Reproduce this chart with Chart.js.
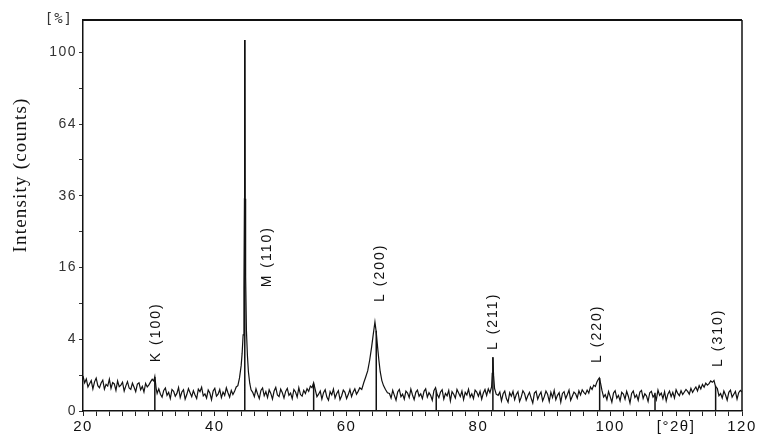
<!DOCTYPE html>
<html><head><meta charset="utf-8">
<script src="https://cdn.jsdelivr.net/npm/chart.js@4.4.1/dist/chart.umd.min.js"></script>
<style>html,body{margin:0;padding:0;background:#fff}canvas{display:block}</style>
</head><body>
<canvas id="c" width="760" height="447"></canvas>
<script>
// 2-theta angles (degrees)
const twoTheta = [
20,20.25,20.5,20.75,21,21.25,21.5,21.75,22,22.25,22.5,22.75,23,23.25,23.5,23.75,24,24.25,24.5,24.75,25,25.25,25.5,25.75,26,26.25,26.5,26.75,27,27.25,27.5,27.75,28,28.25,28.5,28.75,29,29.25,29.5,29.75,30,30.25,30.5,30.75,30.9,31.1,31.25,
31.5,31.75,32,32.25,32.5,32.75,33,33.25,33.5,33.75,34,34.25,34.5,34.75,35,35.25,35.5,35.75,36,36.25,36.5,36.75,37,37.25,37.5,37.75,38,38.25,38.5,38.75,39,39.25,39.5,39.75,40,40.25,40.5,40.75,41,41.25,41.5,41.75,42,42.25,42.5,42.75,43,43.25,
43.5,43.75,44,44.15,44.3,44.42,44.5,44.55,44.6,44.68,44.8,44.95,45.1,45.3,45.5,
45.75,46,46.25,46.5,46.75,47,47.25,47.5,47.75,48,48.25,48.5,48.75,49,49.25,49.5,49.75,50,50.25,50.5,50.75,51,51.25,51.5,51.75,52,52.25,52.5,52.75,53,53.25,53.5,53.75,54,54.25,54.5,54.75,55,55.25,55.5,
55.75,56,56.25,56.5,56.75,57,57.25,57.5,57.75,58,58.25,58.5,58.75,59,59.25,59.5,59.75,60,60.25,60.5,60.75,61,61.25,61.5,61.75,
62,62.3,62.6,62.9,63.2,63.5,63.8,64.05,64.3,64.5,64.7,64.9,65.1,65.35,65.6,65.9,66.2,
66.5,66.75,67,67.25,67.5,67.75,68,68.25,68.5,68.75,69,69.25,69.5,69.75,70,70.25,70.5,70.75,71,71.25,71.5,71.75,72,72.25,72.5,72.75,73,73.25,73.5,73.75,74,74.25,74.5,74.75,75,75.25,75.5,75.75,76,76.25,76.5,76.75,77,77.25,77.5,77.75,78,78.25,78.5,78.75,79,79.25,79.5,79.75,80,80.25,80.5,80.75,81,81.25,81.5,81.75,
82,82.1,82.2,82.3,82.45,82.7,
83,83.25,83.5,83.75,84,84.25,84.5,84.75,85,85.25,85.5,85.75,86,86.25,86.5,86.75,87,87.25,87.5,87.75,88,88.25,88.5,88.75,89,89.25,89.5,89.75,90,90.25,90.5,90.75,91,91.25,91.5,91.75,92,92.25,92.5,92.75,93,93.25,93.5,93.75,94,94.25,94.5,94.75,95,95.25,95.5,95.75,96,96.25,
96.5,96.75,97,97.25,97.5,97.75,98,98.2,98.35,98.55,98.75,99,
99.25,99.5,99.75,100,100.25,100.5,100.75,101,101.25,101.5,101.75,102,102.25,102.5,102.75,103,103.25,103.5,103.75,104,104.25,104.5,104.75,105,105.25,105.5,105.75,106,106.25,106.5,106.75,107,107.25,107.5,107.75,108,108.25,108.5,108.75,109,109.25,109.5,109.75,110,110.25,110.5,110.75,111,111.25,111.5,
111.75,112,112.25,112.5,112.75,113,113.25,113.5,113.75,114,114.25,114.5,114.75,115,115.25,115.5,115.75,116,116.25,116.5,
116.75,117,117.25,117.5,117.75,118,118.25,118.5,118.75,119,119.25,119.5,119.75,120
];
// intensity (%)
const intensity = [
0.95,0.62,0.80,0.45,0.58,0.72,0.38,0.66,0.84,0.50,0.42,0.61,0.74,0.37,0.55,0.48,0.79,0.40,0.63,0.57,0.33,0.70,0.46,0.52,0.64,0.31,0.49,0.67,0.41,0.36,0.60,0.44,0.29,0.56,0.62,0.35,0.47,0.28,0.59,0.45,0.53,0.66,0.78,0.70,0.92,0.40,0.24,
0.38,0.22,0.15,0.33,0.41,0.19,0.27,0.12,0.36,0.30,0.17,0.24,0.43,0.14,0.28,0.35,0.11,0.21,0.39,0.26,0.16,0.32,0.20,0.12,0.37,0.29,0.44,0.18,0.23,0.13,0.34,0.25,0.10,0.31,0.40,0.17,0.22,0.36,0.14,0.28,0.19,0.42,0.26,0.15,0.33,0.21,0.30,0.45,
0.50,0.85,1.6,2.6,4.5,12,35,107,35,14,5,2.4,1.2,0.6,0.35,
0.27,0.16,0.38,0.22,0.12,0.33,0.41,0.18,0.29,0.14,0.35,0.24,0.11,0.31,0.43,0.20,0.16,0.37,0.26,0.13,0.30,0.40,0.19,0.25,0.12,0.36,0.28,0.15,0.42,0.21,0.17,0.33,0.24,0.39,0.30,0.48,0.42,0.62,0.35,0.16,
0.22,0.31,0.11,0.26,0.35,0.15,0.09,0.29,0.20,0.37,0.13,0.24,0.32,0.10,0.18,0.34,0.27,0.12,0.21,0.36,0.16,0.28,0.38,0.22,0.30,
0.42,0.36,0.62,0.90,1.25,2.0,3.2,4.6,6.15,4.8,3.2,2.0,1.2,0.72,0.50,0.36,0.26,
0.24,0.13,0.33,0.19,0.09,0.28,0.36,0.16,0.22,0.11,0.31,0.25,0.14,0.37,0.20,0.10,0.27,0.34,0.17,0.23,0.12,0.30,0.38,0.15,0.26,0.19,0.09,0.32,0.42,0.21,0.14,0.28,0.35,0.11,0.24,0.18,0.33,0.08,0.29,0.22,0.13,0.36,0.25,0.16,0.31,0.10,0.27,0.20,0.37,0.15,0.23,0.12,0.34,0.28,0.17,0.30,0.11,0.25,0.36,0.19,0.38,0.26,
0.45,1.10,2.25,1.00,0.40,0.22,
0.19,0.28,0.08,0.23,0.31,0.12,0.06,0.26,0.17,0.30,0.10,0.21,0.29,0.07,0.15,0.32,0.24,0.09,0.18,0.27,0.13,0.05,0.25,0.30,0.11,0.20,0.28,0.08,0.16,0.31,0.22,0.07,0.27,0.14,0.33,0.10,0.19,0.26,0.06,0.24,0.29,0.12,0.21,0.34,0.09,0.17,0.28,0.23,0.13,0.32,0.20,0.35,0.27,0.22,
0.34,0.25,0.45,0.36,0.52,0.47,0.67,0.78,0.85,0.58,0.33,0.15,
0.21,0.10,0.29,0.16,0.06,0.25,0.32,0.13,0.19,0.08,0.27,0.22,0.11,0.30,0.17,0.05,0.24,0.31,0.14,0.20,0.09,0.28,0.33,0.12,0.23,0.18,0.07,0.26,0.30,0.15,0.21,0.10,0.34,0.19,0.25,0.12,0.29,0.08,0.22,0.31,0.16,0.27,0.13,0.35,0.24,0.18,0.32,0.21,0.28,0.36,
0.30,0.22,0.40,0.27,0.36,0.45,0.31,0.50,0.38,0.55,0.44,0.60,0.52,0.58,0.70,0.64,0.72,0.45,0.40,0.18,
0.24,0.13,0.31,0.20,0.09,0.27,0.34,0.15,0.22,0.30,0.11,0.26,0.33,0.28
];
// peak marker (drop line) positions and heights (%)
const markerAngles = [30.9, 44.55, 55.0, 64.5, 73.6, 82.2, 98.4, 106.8, 116.0];
const markerTops   = [0.90, 107, 0.56, 5.0, 0.33, 2.25, 0.85, 0.26, 0.50];
// peak labels
const peakLabels  = ['K (100)','M (110)','L (200)','L (211)','L (220)','L (310)'];
const labelAngles = [31.1, 47.9, 65.1, 82.2, 98.0, 116.4];
const labelBase   = [1.36, 3.45, 3.04, 1.70, 1.34, 1.23]; // in sqrt-scale units
// axis tick labels
const yTickLabels = [0, 4, 16, 36, 64, 100];
const xTickLabels = {20:'20', 40:'40', 60:'60', 80:'80', 100:'100', 110:'[°2θ]', 120:'120'};

if (twoTheta.length !== intensity.length) console.error('length mismatch', twoTheta.length, intensity.length);

const pattern = twoTheta.map((x, i) => ({x, y: Math.sqrt(intensity[i])}));
const drops = [];
markerAngles.forEach((a, i) => { drops.push({x: a, y: 0}, {x: a, y: Math.sqrt(markerTops[i])}, {x: a, y: null}); });

const decor = {
  id: 'decor',
  beforeDraw(chart) {
    chart.ctx.letterSpacing = '1.5px';
  },
  afterDraw(chart) {
    const {ctx, chartArea: a, scales: {x, y}} = chart;
    ctx.save();
    ctx.strokeStyle = '#111';
    ctx.lineWidth = 2;
    ctx.beginPath(); ctx.moveTo(a.left, a.top); ctx.lineTo(a.right, a.top); ctx.stroke();
    ctx.lineWidth = 1.5;
    ctx.beginPath(); ctx.moveTo(a.right, a.top); ctx.lineTo(a.right, a.bottom); ctx.stroke();

    ctx.fillStyle = '#111';
    ctx.font = '14px "Liberation Sans", Arial, sans-serif';
    ctx.letterSpacing = '2px';
    peakLabels.forEach((t, i) => {
      const px = x.getPixelForValue(labelAngles[i]);
      const py = y.getPixelForValue(labelBase[i]);
      ctx.save();
      ctx.translate(px, py);
      ctx.rotate(-Math.PI / 2);
      ctx.textAlign = 'left';
      ctx.textBaseline = 'middle';
      ctx.fillText(t, 0, 0);
      ctx.restore();
    });

    // y-axis title
    ctx.font = '19px "Liberation Serif", "Times New Roman", serif';
    ctx.letterSpacing = '1.2px';
    ctx.save();
    ctx.translate(21, 175);
    ctx.rotate(-Math.PI / 2);
    ctx.textAlign = 'center';
    ctx.textBaseline = 'middle';
    ctx.fillText('Intensity (counts)', 0, 0);
    ctx.restore();

    // unit label
    ctx.letterSpacing = '1px';
    ctx.font = '14px "DejaVu Sans Mono", monospace';
    ctx.fillStyle = '#333';
    ctx.textAlign = 'right';
    ctx.textBaseline = 'middle';
    ctx.fillText('[%]', 73, a.top - 1);
    ctx.restore();
  }
};

new Chart(document.getElementById('c'), {
  type: 'line',
  data: {
    datasets: [
      {data: pattern, borderColor: '#111', borderWidth: 1.2, pointRadius: 0, tension: 0, fill: false},
      {data: drops, borderColor: '#111', borderWidth: 1.5, pointRadius: 0, tension: 0, spanGaps: false, fill: false}
    ]
  },
  options: {
    responsive: false,
    animation: false,
    events: [],
    layout: {padding: {top: 20, right: 18, left: 0, bottom: 0}},
    plugins: {legend: {display: false}, tooltip: {enabled: false}},
    scales: {
      x: {
        type: 'linear', min: 20, max: 120,
        afterFit(s) { s.height = 36; },
        border: {display: true, color: '#111', width: 1.5},
        grid: {drawOnChartArea: false, drawTicks: true, tickLength: 5, color: '#222', lineWidth: 1},
        ticks: {
          stepSize: 2, autoSkip: false, maxRotation: 0, includeBounds: false, padding: 2,
          color: '#111', font: {family: '"Liberation Sans", Arial, sans-serif', size: 15},
          callback: v => xTickLabels[v] !== undefined ? xTickLabels[v] : ''
        }
      },
      y: {
        type: 'linear', min: 0, max: 10.9,
        afterFit(s) { s.width = 83; },
        border: {display: true, color: '#111', width: 1.5},
        grid: {drawOnChartArea: false, drawTicks: true, tickLength: 4, color: '#333', lineWidth: 1},
        ticks: {
          stepSize: 1, autoSkip: false, includeBounds: false, padding: 2,
          color: '#333', font: {family: '"Liberation Sans", Arial, sans-serif', size: 14},
          callback: v => { const sq = Math.round(v * v); return (Number.isInteger(v) && yTickLabels.includes(sq)) ? String(sq) : ''; }
        }
      }
    }
  },
  plugins: [decor]
});
</script>
</body></html>
